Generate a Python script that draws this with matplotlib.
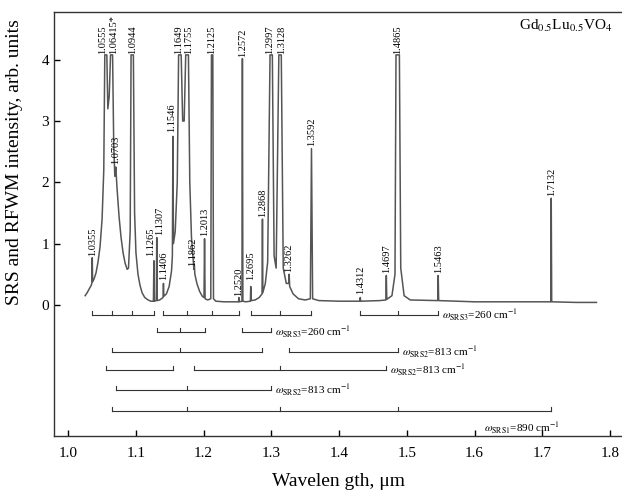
import matplotlib
matplotlib.use("Agg")
import matplotlib.pyplot as plt

plt.rcParams['font.family'] = ['Liberation Serif', 'DejaVu Serif']
plt.rcParams['mathtext.fontset'] = 'stix'

# spectrum (wavelength um, intensity arb. units)
wl = [1.025, 1.028, 1.031, 1.034, 1.0350, 1.0355, 1.0360, 1.038, 1.041, 1.044,
      1.047, 1.050, 1.0525, 1.0540, 1.0570, 1.0585, 1.0605, 1.0625, 1.0655, 1.0672,
      1.0688, 1.0703, 1.0718, 1.075, 1.078, 1.081, 1.084, 1.087, 1.089, 1.0915,
      1.0928, 1.0962, 1.0980, 1.100, 1.103, 1.106, 1.109, 1.113, 1.118, 1.122,
      1.1258, 1.1265, 1.1272, 1.1300, 1.1307, 1.1314, 1.135, 1.1400, 1.1406, 1.1412,
      1.145, 1.149, 1.1525, 1.1538, 1.1546, 1.1554, 1.158, 1.1610, 1.1630, 1.1668,
      1.1690, 1.1712, 1.1735, 1.1775, 1.1795, 1.182, 1.1845, 1.1856, 1.1862, 1.1870,
      1.190, 1.194, 1.198, 1.2005, 1.2013, 1.2021, 1.206, 1.2105, 1.2115, 1.2135,
      1.2145, 1.218, 1.230, 1.245, 1.2515, 1.2520, 1.2525, 1.2565, 1.2572, 1.2579,
      1.262, 1.2690, 1.2695, 1.2700, 1.276, 1.282, 1.2862, 1.2868, 1.2874, 1.291,
      1.2945, 1.2980, 1.3014, 1.3040, 1.3070, 1.3110, 1.3146, 1.3175, 1.3220, 1.3255,
      1.3262, 1.3270, 1.332, 1.340, 1.350, 1.3575, 1.3592, 1.3609, 1.370, 1.400,
      1.4305, 1.4312, 1.4319, 1.460, 1.4690, 1.4697, 1.4704, 1.478, 1.4825, 1.4840,
      1.4890, 1.4910, 1.496, 1.505, 1.5456, 1.5463, 1.5470, 1.600, 1.7125, 1.7132,
      1.7139, 1.750, 1.780]
intensity = [0.15, 0.20, 0.26, 0.32, 0.36, 0.77, 0.38, 0.42, 0.52, 0.70,
             0.95, 1.40, 2.20, 4.08, 4.08, 3.20, 3.40, 4.08, 4.08, 2.60,
             2.10, 2.25, 1.95, 1.45, 1.10, 0.85, 0.68, 0.58, 0.60, 1.20,
             4.08, 4.08, 1.50, 0.85, 0.50, 0.32, 0.20, 0.12, 0.08, 0.06,
             0.06, 0.72, 0.06, 0.07, 1.10, 0.07, 0.08, 0.12, 0.35, 0.14,
             0.18, 0.30, 0.55, 0.80, 2.75, 1.00, 1.20, 2.00, 4.08, 4.08,
             3.00, 3.00, 4.08, 4.08, 2.00, 1.10, 0.75, 0.58, 0.66, 0.50,
             0.35, 0.22, 0.14, 0.12, 1.08, 0.10, 0.08, 0.10, 4.08, 4.08,
             0.10, 0.06, 0.05, 0.05, 0.05, 0.12, 0.05, 0.06, 4.02, 0.06,
             0.05, 0.06, 0.30, 0.07, 0.08, 0.12, 0.18, 1.40, 0.20, 0.35,
             0.70, 4.08, 4.08, 0.80, 0.60, 4.08, 4.08, 0.60, 0.35, 0.35,
             0.50, 0.30, 0.18, 0.10, 0.08, 0.10, 2.55, 0.10, 0.07, 0.06,
             0.06, 0.12, 0.06, 0.07, 0.08, 0.48, 0.09, 0.15, 0.50, 4.08,
             4.08, 0.60, 0.15, 0.08, 0.07, 0.48, 0.07, 0.05, 0.05, 1.74,
             0.05, 0.04, 0.04]

# peak labels: text, wavelength, height of label base
peak_text = ['1.0355', '1.0555', '1.06415*', '1.0703', '1.0944', '1.1265', '1.1307',
             '1.1406', '1.1546', '1.1649', '1.1755', '1.1862', '1.2013', '1.2125',
             '1.2520', '1.2572', '1.2695', '1.2868', '1.2997', '1.3128', '1.3262',
             '1.3592', '1.4312', '1.4697', '1.4865', '1.5463', '1.7132']
peak_wl = [1.0355, 1.0555, 1.06415, 1.0703, 1.0944, 1.1265, 1.1307,
           1.1406, 1.1546, 1.1649, 1.1755, 1.1862, 1.2013, 1.2125,
           1.2520, 1.2572, 1.2695, 1.2868, 1.2997, 1.3128, 1.3262,
           1.3592, 1.4312, 1.4697, 1.4865, 1.5463, 1.7132]
peak_lab_y = [0.80, 4.10, 4.10, 2.30, 4.10, 0.80, 1.14,
              0.40, 2.82, 4.10, 4.10, 0.64, 1.12, 4.10,
              0.15, 4.04, 0.40, 1.43, 4.10, 4.10, 0.53,
              2.60, 0.18, 0.52, 4.10, 0.52, 1.78]
peak_dx = [0, -2.5, 1.5, 0, 0, -2.5, 2, 0, -1, -1, 1, -1, 0, 0,
           0, 0, 0, 0, -1, 1, 0, 0, 0, 0, 0, 0, 0]

# Raman shift combs: wavelengths, row level, label
comb_wl = [[1.0355, 1.06415, 1.0944, 1.1265],
           [1.1406, 1.1755, 1.2125, 1.2520],
           [1.2695, 1.3128, 1.3592],
           [1.4312, 1.4865, 1.5463],
           [1.1307, 1.1649, 1.2013],
           [1.2572, 1.2997],
           [1.06415, 1.1649, 1.2868],
           [1.3262, 1.4865],
           [1.0555, 1.1546],
           [1.1862, 1.3128, 1.4697],
           [1.0703, 1.1755, 1.2997],
           [1.06415, 1.1755, 1.3128, 1.4865, 1.7132]]
comb_y = [-0.17, -0.17, -0.17, -0.17, -0.44, -0.44, -0.77, -0.77,
          -1.07, -1.07, -1.39, -1.73]
comb_label = [None, None, None, r'$\omega_{\rm SRS3}$=260 cm$^{-1}$',
              None, r'$\omega_{\rm SRS3}$=260 cm$^{-1}$',
              None, r'$\omega_{\rm SRS2}$=813 cm$^{-1}$',
              None, r'$\omega_{\rm SRS2}$=813 cm$^{-1}$',
              r'$\omega_{\rm SRS2}$=813 cm$^{-1}$',
              r'$\omega_{\rm SRS1}$=890 cm$^{-1}$']

fig = plt.figure(figsize=(6.22, 4.95), dpi=100)
ax = fig.add_axes([54 / 622, 59 / 495, 568 / 622, 424 / 495])

ax.plot(wl, intensity, color='#555555', lw=1.1)

for t, x, y, dx in zip(peak_text, peak_wl, peak_lab_y, peak_dx):
    ax.annotate(t, (x, y), xytext=(dx, 0), textcoords='offset points',
                rotation=90, ha='center', va='bottom', fontsize=7.5)

tick_h = 0.07
for xs, y, lab in zip(comb_wl, comb_y, comb_label):
    ax.plot([xs[0], xs[-1]], [y, y], color='#333333', lw=0.8)
    for x in xs:
        ax.plot([x, x], [y, y + tick_h], color='#333333', lw=0.8)
    if lab is not None:
        if 'SRS1' in lab:
            ax.annotate(lab, (xs[-1], y), xytext=(6, -7), textcoords='offset points',
                        ha='right', va='top', fontsize=8)
        else:
            ax.annotate(lab, (xs[-1], y), xytext=(3, 0), textcoords='offset points',
                        ha='left', va='center', fontsize=8)

ax.text(0.984, 0.967, r'Gd$_{0.5}$Lu$_{0.5}$VO$_4$', transform=ax.transAxes,
        ha='right', va='center', fontsize=11)

ax.set_xlim(0.979, 1.8177)
ax.set_ylim(-2.14, 4.78)
ax.set_xticks([1.0, 1.1, 1.2, 1.3, 1.4, 1.5, 1.6, 1.7, 1.8])
ax.set_xticklabels(['1.0', '1.1', '1.2', '1.3', '1.4', '1.5', '1.6', '1.7', '1.8'])
ax.set_yticks([0, 1, 2, 3, 4])
ax.tick_params(direction='in', length=4, width=1, labelsize=11)
ax.tick_params(axis='x', pad=8)
ax.spines['right'].set_visible(False)
for s in ['left', 'bottom', 'top']:
    ax.spines[s].set_linewidth(1.0)
    ax.spines[s].set_color('#333333')

ax.set_xlabel('Wavelen gth, μm', fontsize=14, labelpad=9)
ax.set_ylabel('SRS and RFWM intensity, arb. units', fontsize=14)
ax.yaxis.set_label_coords(-0.055, 0.646)

fig.savefig('out.png', dpi=100)
